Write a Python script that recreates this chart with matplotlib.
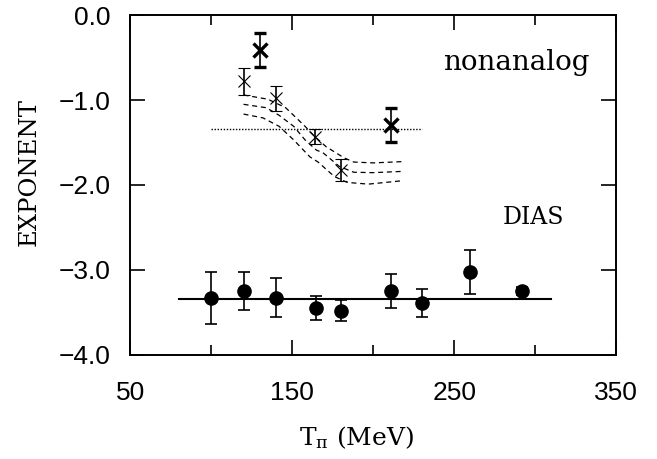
import numpy as np
import matplotlib
matplotlib.use("Agg")
import matplotlib.pyplot as plt
from matplotlib.ticker import FuncFormatter

plt.rcParams["mathtext.fontset"] = "dejavuserif"

# ── data ──────────────────────────────────────────────
dias_t = [100, 120, 140, 165, 180, 211, 230, 260, 292]
dias_y = [-3.33, -3.25, -3.33, -3.45, -3.48, -3.25, -3.39, -3.02, -3.25]
dias_err = [0.31, 0.22, 0.23, 0.14, 0.12, 0.20, 0.16, 0.26, 0.05]
dias_fit_t = [80, 310]
dias_fit_y = [-3.345, -3.345]

non_t = [120, 130, 140, 164, 180, 211]
non_y = [-0.78, -0.41, -0.98, -1.43, -1.82, -1.29]
non_err = [0.16, 0.20, 0.15, 0.09, 0.13, 0.20]
non_bold = [False, True, False, False, False, True]
non_avg_t = [100, 230]
non_avg_y = [-1.345, -1.345]

curve_top_t = [120, 123, 135, 146, 152, 158, 164, 171, 182, 188, 200, 218]
curve_top_y = [-0.94, -0.95, -0.99, -1.09, -1.20, -1.31, -1.43, -1.55, -1.68, -1.73, -1.74, -1.725]
curve_mid_t = [120, 134, 142, 151, 158, 165, 169, 179, 188, 200, 218]
curve_mid_y = [-1.05, -1.09, -1.18, -1.31, -1.47, -1.59, -1.62, -1.78, -1.85, -1.855, -1.84]
curve_bot_t = [120, 132, 142, 151, 156, 161, 166, 176, 184, 197, 218]
curve_bot_y = [-1.165, -1.21, -1.31, -1.47, -1.57, -1.67, -1.73, -1.90, -1.97, -1.99, -1.95]

x_major = [50, 150, 250, 350]
x_minor = [100, 200, 300]
y_major = [-4.0, -3.0, -2.0, -1.0, 0.0]

fig = plt.figure(figsize=(6.57, 4.59), dpi=100)
ax = fig.add_axes([0.198, 0.227, 0.740, 0.740])

# DIAS
ax.plot(dias_fit_t, dias_fit_y, color="black", lw=1.5)
ax.errorbar(dias_t, dias_y, yerr=dias_err, fmt="o", color="black", ms=9.5,
            capsize=4.5, elinewidth=1.2, capthick=1.2)

# nonanalog
ax.plot(non_avg_t, non_avg_y, color="black", lw=1.0, ls=(0, (1, 1.2)))
for ct, cy in [(curve_top_t, curve_top_y), (curve_mid_t, curve_mid_y),
               (curve_bot_t, curve_bot_y)]:
    ax.plot(ct, cy, color="black", lw=0.9, ls=(0, (4, 3)))
for t, y, e, b in zip(non_t, non_y, non_err, non_bold):
    ax.errorbar([t], [y], yerr=[e], fmt="x", color="black",
                ms=10 if b else 8, mew=2.4 if b else 0.8,
                capsize=4.5, elinewidth=1.2, capthick=1.2)

ax.text(0.794, 0.86, "nonanalog", transform=ax.transAxes, fontsize=20,
        family="DejaVu Serif", ha="center", va="center")
ax.text(0.829, 0.403, "DIAS", transform=ax.transAxes, fontsize=17,
        family="DejaVu Serif", ha="center", va="center")

ax.set_xlim(50, 350)
ax.set_ylim(-4.0, 0.0)
ax.set_xticks(x_major)
ax.set_xticks(x_minor, minor=True)
ax.set_yticks(y_major)
ax.yaxis.set_major_formatter(FuncFormatter(lambda v, p: f"{v:.1f}".replace("-", "\u2212")))
ax.tick_params(which="both", direction="in", top=True, right=True,
               labelsize=19, width=1.2)
ax.tick_params(axis="x", pad=19)
ax.tick_params(axis="y", pad=14)
ax.tick_params(which="major", length=11)
ax.tick_params(which="minor", length=7)
for lab in ax.get_xticklabels() + ax.get_yticklabels():
    lab.set_family("Liberation Sans")
for s in ax.spines.values():
    s.set_linewidth(1.4)

ax.set_xlabel(r"T$_{\mathrm{\pi}}$ (MeV)", fontsize=18, family="DejaVu Serif")
ax.xaxis.set_label_coords(0.465, -0.205)
ax.set_ylabel("EXPONENT", fontsize=17.5, family="DejaVu Serif")
ax.yaxis.set_label_coords(-0.185, 0.538)

fig.savefig("out.png", dpi=100)
